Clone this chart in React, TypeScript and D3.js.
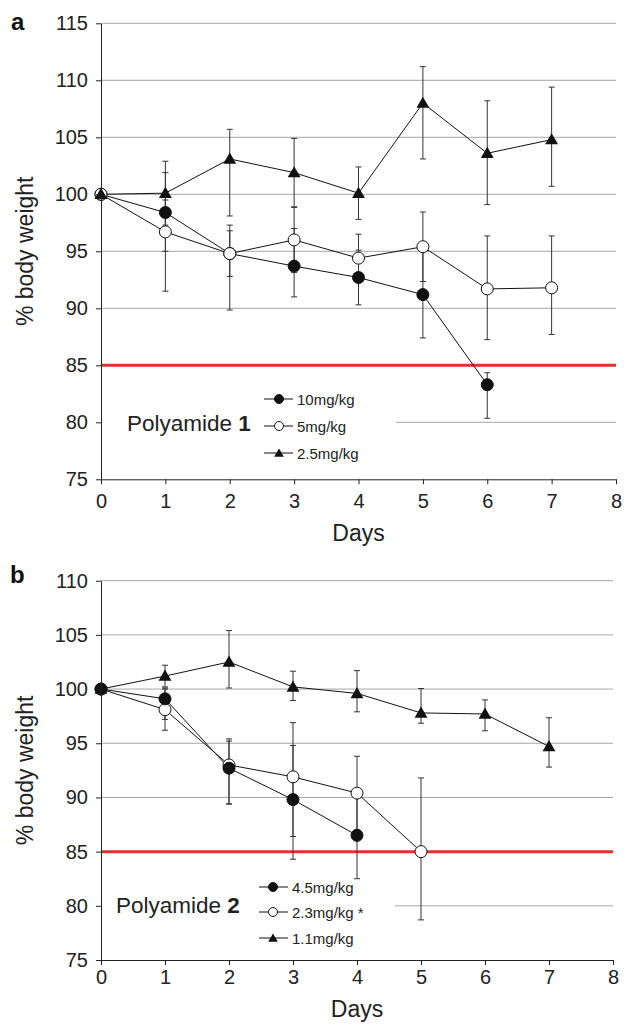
import React, { useRef, useEffect } from 'react'
import * as d3 from 'd3'

// panel a – Polyamide 1
const daysA = [0, 1, 2, 3, 4, 5, 6, 7]
const a10 = [100, 98.4, 94.8, 93.7, 92.7, 91.2, 83.3]
const a10Up = [0, 1.1, 2.0, 3.3, 2.4, 3.8, 1.05]
const a10Dn = [0, 3.4, 2.0, 2.7, 2.4, 3.8, 2.95]
const a5 = [100, 96.7, 94.8, 96.0, 94.4, 95.4, 91.7, 91.8]
const a5Up = [0, 5.2, 2.5, 2.85, 2.1, 3.05, 4.65, 4.55]
const a5Dn = [0, 5.2, 4.95, 2.85, 2.1, 3.05, 4.45, 4.1]
const a25 = [100, 100.1, 103.1, 101.9, 100.1, 108.0, 103.6, 104.8]
const a25Up = [0, 2.8, 2.6, 3.0, 2.3, 3.2, 4.6, 4.6]
const a25Dn = [0, 2.8, 5.0, 3.0, 2.3, 4.9, 4.5, 4.1]
const legendA = ['10mg/kg', '5mg/kg', '2.5mg/kg']
const ticksA = [75, 80, 85, 90, 95, 100, 105, 110, 115]

// panel b – Polyamide 2
const b45 = [100, 99.1, 92.7, 89.8, 86.5]
const b45Up = [0, 1.0, 2.7, 5.0, 4.0]
const b45Dn = [0, 1.9, 3.3, 5.5, 4.0]
const b23 = [100, 98.1, 93.0, 91.9, 90.4, 85.0]
const b23Up = [0, 1.9, 2.2, 5.0, 3.4, 6.8]
const b23Dn = [0, 1.9, 3.6, 5.5, 3.4, 6.3]
const b11 = [100, 101.2, 102.5, 100.2, 99.6, 97.8, 97.7, 94.7]
const b11Up = [0, 1.0, 2.9, 1.45, 2.1, 2.25, 1.3, 2.65]
const b11Dn = [0, 1.0, 2.4, 1.25, 1.7, 0.95, 1.55, 1.9]
const legendB = ['4.5mg/kg', '2.3mg/kg *', '1.1mg/kg']
const ticksB = [75, 80, 85, 90, 95, 100, 105, 110]

const xTicks = [0, 1, 2, 3, 4, 5, 6, 7, 8]
const threshold = 85
const FONT = '"Liberation Sans", Arial, sans-serif'

type Marker = 'filled' | 'open' | 'tri'
interface Series { vals: number[]; up: number[]; dn: number[]; marker: Marker }

interface PanelCfg {
  letter: string
  letterPos: [number, number]
  num: string
  yTicks: number[]
  yRange: [number, number]
  xRange: [number, number]
  tickBase: number
  daysBase: number
  series: Series[]
  labels: string[]
  legendMarkers: Marker[]
  box: [number, number, number, number]
  titlePos: [number, number]
  itemY: number[]
  lineX: [number, number]
  markX: number
  textX: number
}

const panels: PanelCfg[] = [
  {
    letter: 'a', letterPos: [11, 30], num: '1',
    yTicks: ticksA, yRange: [479.3, 23.3], xRange: [101, 616],
    tickBase: 508, daysBase: 541,
    series: [
      { vals: a10, up: a10Up, dn: a10Dn, marker: 'filled' },
      { vals: a5, up: a5Up, dn: a5Dn, marker: 'open' },
      { vals: a25, up: a25Up, dn: a25Dn, marker: 'tri' },
    ],
    labels: legendA, legendMarkers: ['filled', 'open', 'tri'],
    box: [101, 388, 396, 474], titlePos: [127, 431],
    itemY: [399, 426, 453], lineX: [264, 293], markX: 279, textX: 297,
  },
  {
    letter: 'b', letterPos: [10, 583], num: '2',
    yTicks: ticksB, yRange: [960, 580.7], xRange: [101, 613],
    tickBase: 984, daysBase: 1017,
    series: [
      { vals: b11, up: b11Up, dn: b11Dn, marker: 'tri' },
      { vals: b23, up: b23Up, dn: b23Dn, marker: 'open' },
      { vals: b45, up: b45Up, dn: b45Dn, marker: 'filled' },
    ],
    labels: legendB, legendMarkers: ['filled', 'open', 'tri'],
    box: [101, 881, 395, 955], titlePos: [116, 913],
    itemY: [887, 912, 938], lineX: [259, 288], markX: 273, textX: 292,
  },
]

function drawMarker(g: any, m: Marker, cx: number, cy: number, s: number) {
  if (m === 'tri') {
    g.append('path')
      .attr('d', d3.symbol().type(d3.symbolTriangle).size(72 * s * s)())
      .attr('transform', `translate(${cx},${cy + 1})`)
      .attr('fill', '#111')
  } else {
    g.append('circle')
      .attr('cx', cx).attr('cy', cy).attr('r', 6 * s)
      .attr('fill', m === 'filled' ? '#111' : '#fff')
      .attr('stroke', '#111').attr('stroke-width', 1)
  }
}

const App: React.FC = () => {
  const svgRef = useRef<SVGSVGElement>(null)

  useEffect(() => {
    const svg = d3.select(svgRef.current!)
    svg.selectAll('*').remove()

    panels.forEach((p) => {
      const x = d3.scaleLinear().domain([0, 8]).range(p.xRange)
      const y = d3.scaleLinear().domain([p.yTicks[0], p.yTicks[p.yTicks.length - 1]]).range(p.yRange)
      const g = svg.append('g')

      // gridlines
      p.yTicks.slice(1).forEach((t) => {
        g.append('line')
          .attr('x1', p.xRange[0]).attr('x2', p.xRange[1])
          .attr('y1', y(t)).attr('y2', y(t))
          .attr('stroke', '#a6a6a6').attr('stroke-width', 1)
      })

      // 85% threshold
      g.append('line')
        .attr('x1', p.xRange[0]).attr('x2', p.xRange[1])
        .attr('y1', y(threshold)).attr('y2', y(threshold))
        .attr('stroke', '#e0332b').attr('stroke-width', 3)

      // error bars
      p.series.forEach((s) => {
        s.vals.forEach((v, i) => {
          if (!s.up[i] && !s.dn[i]) return
          const xi = x(daysA[i])
          const y1 = y(v + s.up[i]), y2 = y(v - s.dn[i])
          g.append('line').attr('x1', xi).attr('x2', xi).attr('y1', y1).attr('y2', y2)
            .attr('stroke', '#333').attr('stroke-width', 1)
          ;[y1, y2].forEach((yy) => {
            g.append('line').attr('x1', xi - 3).attr('x2', xi + 3).attr('y1', yy).attr('y2', yy)
              .attr('stroke', '#333').attr('stroke-width', 1)
          })
        })
      })

      // lines + markers
      const line = d3.line<number>().x((_, i) => x(daysA[i])).y((d) => y(d))
      p.series.forEach((s) => {
        g.append('path').attr('d', line(s.vals)!)
          .attr('fill', 'none').attr('stroke', '#111').attr('stroke-width', 1)
      })
      p.series.forEach((s) => {
        s.vals.forEach((v, i) => drawMarker(g, s.marker, x(daysA[i]), y(v), 1))
      })

      // legend
      const [bx0, by0, bx1, by1] = p.box
      g.append('rect').attr('x', bx0 + 1).attr('y', by0).attr('width', bx1 - bx0 - 1)
        .attr('height', by1 - by0).attr('fill', '#fff')
      const title = g.append('text')
        .attr('x', p.titlePos[0]).attr('y', p.titlePos[1])
        .style('font-family', FONT).style('font-size', '22.5px').attr('fill', '#222')
      title.append('tspan').text('Polyamide ')
      title.append('tspan').attr('font-weight', 'bold').text(p.num)
      p.labels.forEach((lab, i) => {
        const yy = p.itemY[i]
        g.append('line').attr('x1', p.lineX[0]).attr('x2', p.lineX[1])
          .attr('y1', yy).attr('y2', yy).attr('stroke', '#111').attr('stroke-width', 1)
        drawMarker(g, p.legendMarkers[i], p.markX, yy, 0.75)
        g.append('text').attr('x', p.textX).attr('y', yy + 5.5)
          .style('font-family', FONT).style('font-size', '15px').attr('fill', '#222')
          .text(lab)
      })

      // axes
      const yAxis = g.append('g')
        .attr('transform', `translate(${p.xRange[0]},0)`)
        .call(d3.axisLeft(y).tickValues(p.yTicks).tickSize(5).tickSizeOuter(0).tickPadding(8))
      yAxis.selectAll('text').style('font-family', FONT).style('font-size', '20px').attr('fill', '#222')
      const xAxis = g.append('g')
        .attr('transform', `translate(0,${p.yRange[0]})`)
        .call(d3.axisBottom(x).tickValues(xTicks).tickSize(5).tickSizeOuter(0))
      xAxis.selectAll('text')
        .attr('y', p.tickBase - p.yRange[0]).attr('dy', null)
        .style('font-family', FONT).style('font-size', '20px').attr('fill', '#222')
      ;[yAxis, xAxis].forEach((a) => {
        a.select('.domain').attr('stroke', '#222')
        a.selectAll('line').attr('stroke', '#222')
      })

      // axis titles
      g.append('text')
        .attr('x', (p.xRange[0] + p.xRange[1]) / 2)
        .attr('y', p.daysBase).attr('text-anchor', 'middle')
        .style('font-family', FONT).style('font-size', '23px').attr('fill', '#222')
        .text('Days')
      g.append('text')
        .attr('transform', `translate(33,${(p.yRange[0] + p.yRange[1]) / 2}) rotate(-90)`)
        .attr('text-anchor', 'middle')
        .style('font-family', FONT).style('font-size', '23px').attr('fill', '#222')
        .text('% body weight')
      g.append('text')
        .attr('x', p.letterPos[0]).attr('y', p.letterPos[1])
        .style('font-family', FONT).style('font-size', '24px').attr('font-weight', 'bold')
        .attr('fill', '#111')
        .text(p.letter)
    })
  }, [])

  return (
    <svg
      ref={svgRef}
      width={624}
      height={1024}
      style={{ position: 'absolute', left: 0, top: 0, background: '#fff' }}
    />
  )
}

export default App
